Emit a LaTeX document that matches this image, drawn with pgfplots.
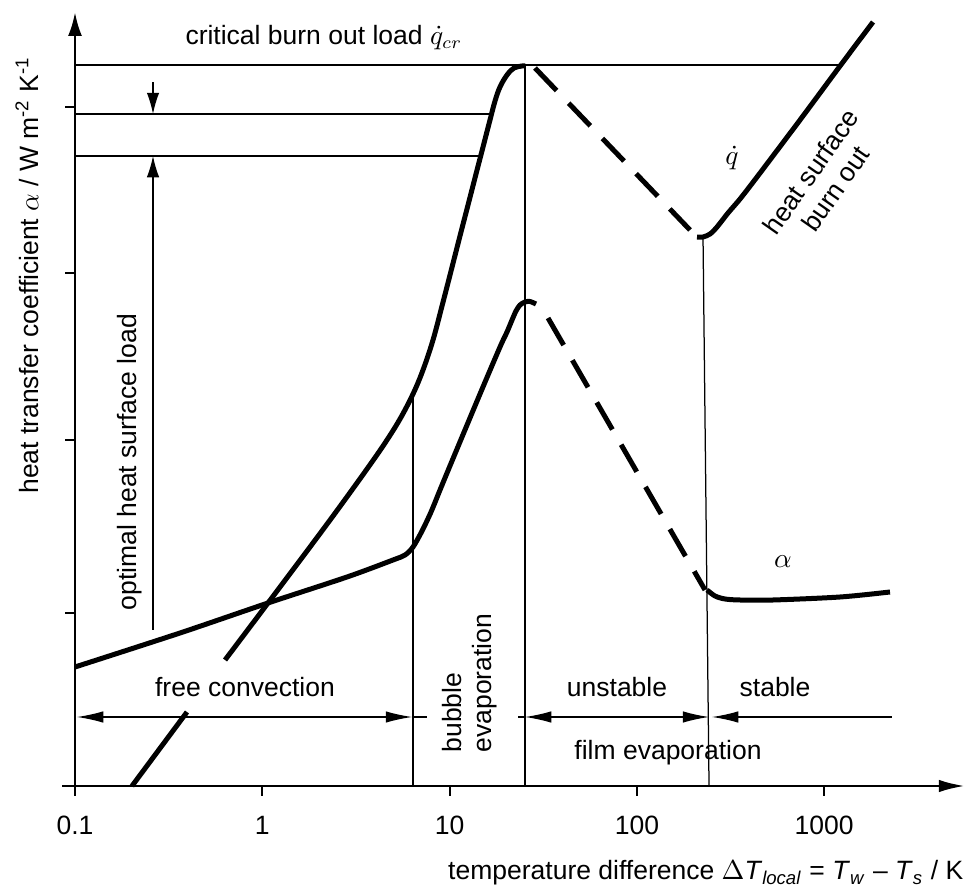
\documentclass[border=0pt]{standalone}
\usepackage{pgfplots}
\pgfplotsset{compat=1.18}
\usepackage{fontspec}
\setmainfont{Liberation Sans}
\usetikzlibrary{arrows.meta}
\newcommand{\fs}{\fontsize{10.6pt}{12pt}\selectfont}
\begin{document}
\begin{tikzpicture}
\begin{axis}[
  scale only axis,
  width=356pt, height=309.6pt,
  xmode=log,
  xmin=0.1, xmax=5645,
  ymin=0, ymax=7.74,
  axis lines=left,
  axis line style={line width=1.1pt, black},
  x axis line style={-{Latex[length=10.5pt,width=5pt]}},
  y axis line style={-{Latex[length=9.5pt,width=5.5pt]}},
  xtick={0.1,1,10,100,1000},
  xticklabels={0.1,1,10,100,1000},
  xminorticks=false,
  ytick={1.73,3.46,5.13,6.79},
  yticklabels={},
  tick align=outside,
  major tick length=4pt,
  x tick style={line width=0.8pt, black},
  y tick style={line width=0.5pt, black},
  xticklabel style={font=\fs, anchor=base, yshift=-15.6pt},
  clip=false,
  xlabel={temperature difference $\Delta$\textit{T}\textsubscript{\textit{local}} = \textit{T}\textsubscript{\textit{w}} -- \textit{T}\textsubscript{\textit{s}} / K},
  ylabel={heat transfer coefficient $\alpha$ / W m\textsuperscript{-2} K\textsuperscript{-1}},
  xlabel style={font=\fs, at={(rel axis cs:1.0079,-0.1214)}, anchor=base east},
  ylabel style={font=\fs, at={(rel axis cs:-0.0539,0.660)}, anchor=center},
]
% invisible frame matching the reference proportions
\path (rel axis cs:-0.08427,-0.13178) rectangle (rel axis cs:1.01348,1.01550);
% x axis extension left of y axis
\draw[line width=1.1pt] (axis cs:0.08524,0) -- (axis cs:0.1,0);

% thin reference lines
\addplot[line width=0.5pt] coordinates {(0.1,7.21) (1214.5,7.21)};
\addplot[line width=0.5pt] coordinates {(0.1,6.72) (16.74,6.72)};
\addplot[line width=0.5pt] coordinates {(0.1,6.30) (14.72,6.30)};
\addplot[line width=0.5pt] coordinates {(6.377,0) (6.377,3.92)};
\addplot[line width=0.5pt] coordinates {(25.27,0) (25.27,7.20)};
\addplot[line width=0.5pt] coordinates {(242.7,0) (225.4,5.49)};

% heat flux q (solid parts)
\addplot[line width=2pt] coordinates {(0.2015,0) (0.3963,0.74)};
\addplot[line width=2pt, smooth, tension=0.6] coordinates {
(0.6324,1.26) (1.0725,1.83) (1.865,2.43) (2.598,2.795) (3.622,3.17) (4.520,3.43)
(5.435,3.67) (6.377,3.92) (7.211,4.16) (8.154,4.46) (9.109,4.80) (10.05,5.11) (11.36,5.50)
(12.54,5.81) (14.01,6.16) (15.08,6.39) (16.43,6.66) (17.48,6.85) (18.58,6.99)
(20.25,7.11) (22.08,7.18) (24.35,7.20) (25.27,7.20)};
\addplot[line width=2pt, dash pattern=on 12.5pt off 7pt] coordinates {(28.57,7.18) (192.1,5.56)};
\addplot[line width=2pt, smooth, tension=0.5] coordinates {
(209.4,5.49) (225.4,5.49) (245.7,5.52) (267.7,5.59) (306.5,5.73) (355.2,5.87)
(437.8,6.09) (742.6,6.66) (1214.5,7.20) (1822,7.64)};

% heat transfer coefficient alpha
\addplot[line width=2pt, smooth, tension=0.5] coordinates {
(0.1,1.19) (0.3635,1.53) (1.0725,1.83) (2.833,2.09) (4.986,2.26) (5.779,2.31)
(6.377,2.39) (7.124,2.55) (7.958,2.74) (8.887,2.96) (10.30,3.25) (14.53,3.92)
(18.58,4.39) (20.25,4.54) (21.54,4.66) (22.62,4.75) (23.76,4.81) (25.27,4.84)
(26.86,4.845) (28.93,4.82)};
\addplot[line width=2pt, dash pattern=on 12.5pt off 7pt] coordinates {(33.53,4.68) (231.0,1.96)};
\addplot[line width=2pt, smooth, tension=0.5] coordinates {
(236.8,1.96) (261.2,1.90) (295.4,1.87) (355.2,1.86) (532.9,1.86) (1214.5,1.89) (2245,1.94)};

% dimension arrows
\draw[line width=0.5pt, {Latex[length=10.5pt,width=4.6pt]}-{Latex[length=10.5pt,width=4.6pt]}] (axis cs:0.1025,0.69) -- (axis cs:6.300,0.69);
\draw[line width=0.5pt] (axis cs:6.300,0.69) -- (axis cs:7.572,0.69);
\draw[line width=0.5pt] (axis cs:23.19,0.69) -- (axis cs:25.27,0.69);
\draw[line width=0.5pt, {Latex[length=10.5pt,width=4.6pt]}-{Latex[length=10.5pt,width=4.6pt]}] (axis cs:25.27,0.69) -- (axis cs:242.7,0.69);
\draw[line width=0.5pt, {Latex[length=10.5pt,width=4.6pt]}-] (axis cs:251.8,0.69) -- (axis cs:2301,0.69);
% optimal heat surface load arrows
\draw[line width=0.5pt, -{Latex[length=8.5pt,width=5pt]}] (axis cs:0.2609,7.04) -- (axis cs:0.2609,6.72);
\draw[line width=0.5pt, -{Latex[length=8.5pt,width=5pt]}] (axis cs:0.2609,1.56) -- (axis cs:0.2609,6.30);

% texts
\node[font=\fs, anchor=base west, inner sep=0pt] at (axis cs:0.3867,7.42) {critical burn out load $\dot{q}_{cr}$};
\node[font=\fs] at (axis cs:322,6.28) {$\dot{q}$};
\node[font=\fs, rotate=55, align=center] at (axis cs:985,6.06) {heat surface\\burn out};
\node[font=\fs] at (axis cs:602.6,2.24) {$\alpha$};
\node[font=\fs, rotate=90] at (axis cs:0.1966,3.24) {optimal heat surface load};
\node[font=\fs, anchor=base] at (axis cs:0.8083,0.89) {free convection};
\node[font=\fs, rotate=90, align=left] at (axis cs:12.85,1.03) {bubble\\evaporation};
\node[font=\fs, anchor=base] at (axis cs:78.31,0.89) {unstable};
\node[font=\fs, anchor=base] at (axis cs:546.1,0.89) {stable};
\node[font=\fs, anchor=base] at (axis cs:146.6,0.26) {film evaporation};
\end{axis}
\end{tikzpicture}
\end{document}
